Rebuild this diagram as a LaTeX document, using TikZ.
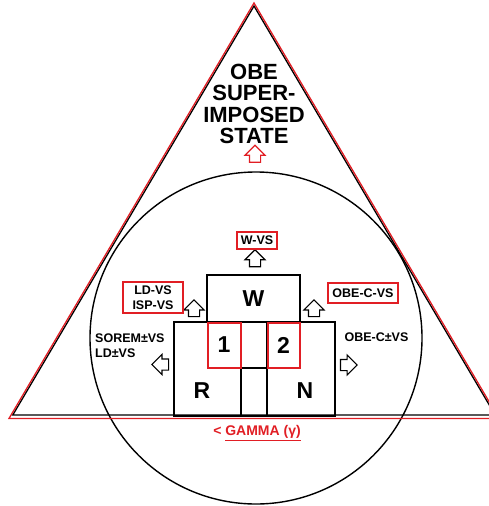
\documentclass[tikz,border=0pt]{standalone}
\usepackage{fontspec}
\setmainfont{Liberation Sans}
\definecolor{rd}{RGB}{225, 30, 36}
\usetikzlibrary{shapes.arrows}

\begin{document}
\begin{tikzpicture}[
  box/.style={rectangle, draw=black, line width=1.2pt, inner sep=0pt},
  redbox/.style={rectangle, draw=rd, line width=2pt, inner sep=0pt},
  tag/.style={rectangle, draw=rd, line width=1.4pt, inner sep=0pt, align=center, font=\bfseries\fontsize{12.5}{14.5}\selectfont},
  big/.style={font=\bfseries\fontsize{23}{23}\selectfont},
  small/.style={font=\bfseries\fontsize{12.5}{15}\selectfont},
  blockarrow/.style={single arrow, draw=black, fill=white, line width=1.1pt, inner sep=5pt, minimum width=0pt, minimum height=17pt, single arrow head extend=4.5pt}
]
\useasboundingbox (0pt, 0pt) rectangle (489pt, -506pt);
% outer shapes
\node (ring) [circle, draw=black, line width=1.4pt, minimum size=332pt, inner sep=0pt] at (256pt, -338pt) {};
\draw [line width=1.3pt, color=black] (254pt, -6pt) -- (12.8pt, -415pt) -- (495.2pt, -415pt) -- cycle;
\draw [line width=1.3pt, color=rd] (254pt, -3pt) -- (9pt, -418.5pt) -- (499pt, -418.5pt) -- cycle;
\node (title) [align=center, font=\bfseries\fontsize{22}{21.3}\selectfont] at (254pt, -104pt) {OBE\\SUPER-\\IMPOSED\\STATE};
\node (uptop) [blockarrow, draw=rd, shape border rotate=90] at (255pt, -156.5pt) {};
% central blocks
\node (w) [box, minimum width=93pt, minimum height=47pt, big] at (253.5pt, -298.5pt) {W};
\node (r) [box, minimum width=67pt, minimum height=94pt] at (207.5pt, -369pt) {};
\node (n) [box, minimum width=68pt, minimum height=94pt] at (301pt, -369pt) {};
\node (midtop) [box, minimum width=26pt, minimum height=46pt] at (254pt, -345pt) {};
\node (midbot) [box, minimum width=26pt, minimum height=48pt] at (254pt, -392pt) {};
\node (one) [redbox, minimum width=33pt, minimum height=45pt, big] at (224pt, -345pt) {1};
\node (two) [redbox, minimum width=32pt, minimum height=45pt, big] at (283.5pt, -345pt) {2};
\node (rlabel) [big] at (202pt, -391pt) {R};
\node (nlabel) [big] at (305pt, -391pt) {N};
% arrows and tags
\node (upw) [blockarrow, shape border rotate=90] at (255pt, -261pt) {};
\node (upl) [blockarrow, minimum height=16pt, shape border rotate=90] at (194pt, -311pt) {};
\node (upr) [blockarrow, minimum height=16pt, shape border rotate=90] at (314pt, -311pt) {};
\node (lefta) [blockarrow, minimum height=16pt, shape border rotate=180] at (163pt, -364.5pt) {};
\node (righta) [blockarrow, minimum height=16pt, shape border rotate=0] at (346pt, -365pt) {};
\node (wvs) [tag, minimum width=40pt, minimum height=17pt] at (257pt, -240.5pt) {W-VS};
\node (ldvs) [tag, minimum width=60pt, minimum height=31pt] at (153pt, -297.5pt) {LD-VS\\ISP-VS};
\node (obecvs) [tag, minimum width=70pt, minimum height=20pt] at (363pt, -293pt) {OBE-C-VS};
\node (sorem) [small, align=left, anchor=west, inner sep=0pt] at (95pt, -345.5pt) {SOREM±VS\\LD±VS};
\node (obecpm) [small] at (376.5pt, -337pt) {OBE-C±VS};
\node (gamma) [text=rd, font=\bfseries\fontsize{14}{16}\selectfont] at (257pt, -433pt) {< \underline{GAMMA (γ)}};
\end{tikzpicture}
\end{document}
